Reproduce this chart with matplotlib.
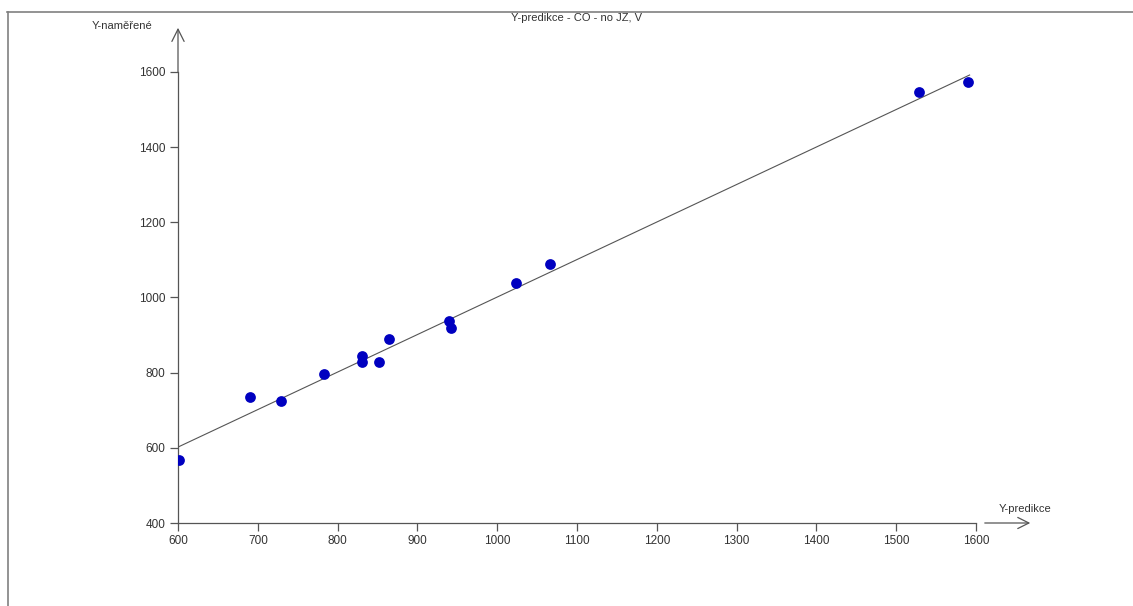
import matplotlib
matplotlib.use("Agg")
import matplotlib.pyplot as plt
from matplotlib.lines import Line2D

plt.rcParams['font.family'] = ['Liberation Sans', 'DejaVu Sans']

# data
y_pred = [601, 690, 729, 783, 831, 831, 852, 864, 940, 942, 1024, 1066, 1529, 1590]
y_meas = [568, 735, 725, 796, 844, 828, 828, 890, 937, 919, 1039, 1089, 1547, 1574]
line_x = [600, 1592]
line_y = [602, 1592]
x_ticks = list(range(600, 1601, 100))
y_ticks = list(range(400, 1601, 200))

fig = plt.figure(figsize=(11.33, 6.06), dpi=100)
ax = fig.add_axes([178 / 1133, 1 - 523 / 606, 798 / 1133, 451 / 606])

ax.plot(line_x, line_y, color='#555555', lw=0.8, zorder=2)
ax.scatter(y_pred, y_meas, s=60, color='#0000c0', zorder=3, linewidths=0)

ax.set_xlim(600, 1600)
ax.set_ylim(400, 1600)
ax.set_xticks(x_ticks)
ax.set_yticks(y_ticks)

for s in ['top', 'right']:
    ax.spines[s].set_visible(False)
for s in ['left', 'bottom']:
    ax.spines[s].set_color('#555555')
    ax.spines[s].set_linewidth(0.9)
ax.tick_params(length=6, width=0.9, color='#555555', labelsize=8.5,
               labelcolor='#333333', pad=3)

# axis arrows
ax.annotate('', xy=(0, 1.098), xytext=(0, 1.0), xycoords='axes fraction',
            arrowprops=dict(arrowstyle='->', color='#555555', lw=0.9,
                            mutation_scale=22, shrinkA=0, shrinkB=0),
            annotation_clip=False)
ax.annotate('', xy=(1.068, 0), xytext=(1.011, 0), xycoords='axes fraction',
            arrowprops=dict(arrowstyle='->', color='#555555', lw=0.9,
                            mutation_scale=20, shrinkA=0, shrinkB=0),
            annotation_clip=False)

fig.text(122 / 1133, 1 - 26 / 606, 'Y-naměřené', fontsize=8, color='#333333',
         ha='center', va='center')
fig.text(1025 / 1133, 1 - 509 / 606, 'Y-predikce', fontsize=8, color='#333333',
         ha='center', va='center')
fig.text(577 / 1133, 1 - 18 / 606, 'Y-predikce - CO - no JZ, V', fontsize=8,
         color='#333333', ha='center', va='center')

# frame lines (top and left)
fig.add_artist(Line2D([7 / 1133, 1], [1 - 11.5 / 606] * 2, color='#808080', lw=1.2,
                      transform=fig.transFigure))
fig.add_artist(Line2D([7.5 / 1133] * 2, [0, 1 - 11.5 / 606], color='#808080', lw=1.2,
                      transform=fig.transFigure))

fig.savefig('out.png', dpi=100)
